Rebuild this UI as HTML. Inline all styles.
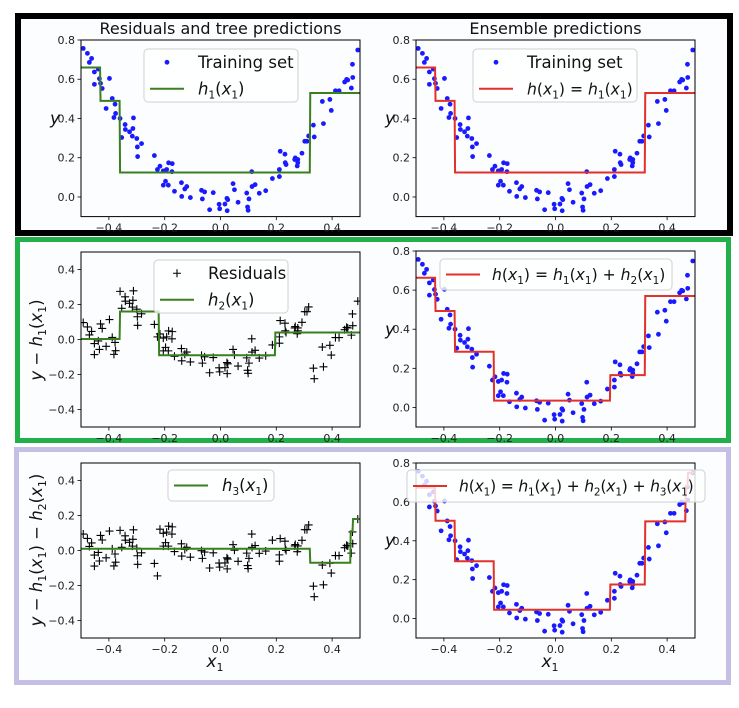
<!DOCTYPE html>
<html><head><meta charset="utf-8">
<style>
html,body{margin:0;padding:0;background:#fff;}
svg{display:block;font-family:"DejaVu Sans","Liberation Sans",sans-serif;}
</style></head>
<body>
<svg id="chart" width="739" height="708" viewBox="0 0 739 708" xmlns="http://www.w3.org/2000/svg">
  <rect x="18" y="16" width="712" height="217" fill="#fbfdff" stroke="#000" stroke-width="6"/>
  <rect x="17.5" y="239.5" width="711" height="201" fill="#fbfdff" stroke="#22b04b" stroke-width="5"/>
  <rect x="16.5" y="449.5" width="712" height="233" fill="#fbfdff" stroke="#c5bfe6" stroke-width="5"/>
  <g id="plots"></g>
</svg>
<script>
const dataX = [-0.492,-0.477,-0.470,-0.462,-0.452,-0.452,-0.438,-0.434,-0.430,-0.424,-0.410,-0.398,-0.388,-0.378,-0.382,-0.376,-0.360,-0.354,-0.342,-0.341,-0.326,-0.314,-0.312,-0.316,-0.300,-0.298,-0.297,-0.283,-0.237,-0.226,-0.217,-0.205,-0.193,-0.205,-0.197,-0.187,-0.186,-0.173,-0.174,-0.165,-0.140,-0.139,-0.128,-0.121,-0.108,-0.068,-0.065,-0.057,-0.039,-0.026,-0.005,-0.003,0.016,0.023,0.026,0.024,0.045,0.050,0.063,0.094,0.097,0.099,0.102,0.112,0.113,0.124,0.139,0.162,0.186,0.211,0.211,0.214,0.231,0.232,0.235,0.266,0.268,0.277,0.275,0.277,0.292,0.302,0.310,0.316,0.333,0.336,0.365,0.369,0.392,0.397,0.412,0.425,0.445,0.452,0.456,0.469,0.473,0.474,0.492];
const dataY = [0.757,0.732,0.686,0.706,0.637,0.574,0.652,0.603,0.579,0.553,0.451,0.604,0.502,0.473,0.405,0.426,0.400,0.303,0.369,0.344,0.332,0.349,0.403,0.310,0.298,0.255,0.206,0.272,0.211,0.140,0.157,0.133,0.140,0.060,0.080,0.060,0.174,0.170,0.129,0.029,0.073,0.003,0.041,0.053,-0.003,0.034,-0.010,0.026,-0.065,0.022,-0.037,-0.060,-0.036,-0.007,-0.014,-0.070,0.068,0.037,-0.027,0.020,-0.051,-0.068,-0.010,0.129,0.053,0.063,0.019,0.032,0.094,0.140,0.104,0.233,0.218,0.175,0.165,0.191,0.199,0.175,0.158,0.191,0.223,0.284,0.284,0.311,0.366,0.306,0.487,0.374,0.497,0.441,0.541,0.541,0.586,0.599,0.596,0.555,0.676,0.609,0.749];
// tree 1
const h1Splits = [-0.43,-0.36,0.32];
const h1Values = [0.66,0.49,0.125,0.53];
// tree 2
const h2Splits = [-0.36,-0.22,0.195];
const h2Values = [0.003,0.16,-0.09,0.04];
// tree 3
const h3Splits = [0.32,0.465,0.475];
const h3Values = [0.01,-0.07,0.11,0.18];
const xTicks = [-0.4,-0.2,0.0,0.2,0.4];
const yTicksPred = [0.0,0.2,0.4,0.6,0.8];
const yTicksRes = [-0.4,-0.2,0.0,0.2,0.4];

const NS="http://www.w3.org/2000/svg";
const root=document.getElementById('plots');
function el(tag,attrs,parent){const e=document.createElementNS(NS,tag);for(const k in attrs)e.setAttribute(k,attrs[k]);(parent||root).appendChild(e);return e;}
function tree(splits,vals,x){let i=0;while(i<splits.length&&x>=splits[i])i++;return vals[i];}
function sumTrees(list,x){let s=0;for(const t of list)s+=tree(t[0],t[1],x);return s;}
function fmt(v){const s=Math.abs(v).toFixed(1);return (v<-1e-9?'\u2212':'')+s;}

const resid1 = dataY.map((y,i)=>y-tree(h1Splits,h1Values,dataX[i]));
const resid2 = dataY.map((y,i)=>y-tree(h1Splits,h1Values,dataX[i])-tree(h2Splits,h2Values,dataX[i]));

function panel(p){
  const g=el('g',{});
  
  
  const sx=v=>p.x0+(v-(-0.5))/(1)*(p.x1-p.x0);
  const sy=v=>p.y1-(v-p.ymin)/(p.ymax-p.ymin)*(p.y1-p.y0);
  const clipId='clip-'+p.name;
  const cp=el('clipPath',{id:clipId},g);
  el('rect',{x:p.x0,y:p.y0,width:p.x1-p.x0,height:p.y1-p.y0},cp);
  xTicks.forEach(t=>{
    const X=sx(t);
    const tk=el('line',{x1:X,x2:X,y1:p.y1,y2:p.y1+3.5,stroke:'#000','stroke-width':0.8},g);
    
    
    const tx=el('text',{x:X,y:p.y1+15,'font-size':11,'text-anchor':'middle',fill:'#222'},g);
    
    
    tx.textContent=fmt(t);
  });
  p.yt.forEach(t=>{
    const Y=sy(t);
    const tk=el('line',{x1:p.x0-3.5,x2:p.x0,y1:Y,y2:Y,stroke:'#000','stroke-width':0.8},g);
    
    
    const tx=el('text',{x:p.x0-6,y:Y+4,'font-size':11,'text-anchor':'end',fill:'#222'},g);
    
    
    tx.textContent=fmt(t);
  });
  const pg=el('g',{'clip-path':'url(#'+clipId+')'},g);
  p.py.forEach((v,i)=>{
    const X=sx(dataX[i]),Y=sy(v);
    if(p.marker==='dot'){
      const c=el('circle',{cx:X,cy:Y,r:2.4,fill:'#1a1aff'},pg);
      
      
    }else{
      const c=el('path',{d:`M${X-4},${Y}H${X+4}M${X},${Y-4}V${Y+4}`,stroke:'#000','stroke-width':1.1,fill:'none'},pg);
      
      
    }
  });
  let d='';const N=600;
  for(let k=0;k<=N;k++){const xv=-0.5+k/N;const yv=sumTrees(p.trees,xv);d+=(k?'L':'M')+sx(xv).toFixed(2)+','+sy(yv).toFixed(2);}
  const ln=el('path',{d:d,fill:'none',stroke:p.color,'stroke-width':2,'stroke-linejoin':'miter'},pg);
  
  
  const fr=el('rect',{x:p.x0,y:p.y0,width:p.x1-p.x0,height:p.y1-p.y0,fill:'none',stroke:'#000','stroke-width':1},g);
  
  
  const L=p.leg;
  const lg=el('g',{},g);
  
  
  el('rect',{x:L.x,y:L.y,width:L.w,height:L.h,rx:4,fill:'#fff','fill-opacity':0.8,stroke:'#d0d0d0'},lg);
  const rh=L.h/L.rows.length;
  L.rows.forEach((r,i)=>{
    const cy=L.y+rh*(i+0.5);
    if(r.type==='dot'){el('circle',{cx:L.x+L.sx+17,cy:cy,r:2.4,fill:'#1a1aff'},lg);}
    else if(r.type==='plus'){const X=L.x+L.sx+17;el('path',{d:`M${X-4},${cy}H${X+4}M${X},${cy-4}V${cy+4}`,stroke:'#000','stroke-width':1.1},lg);}
    else el('line',{x1:L.x+L.sx,x2:L.x+L.sx+34,y1:cy,y2:cy,stroke:p.color,'stroke-width':2},lg);
    const t=el('text',{x:L.x+L.sx+(L.tx||48),y:cy+5.5,'font-size':r.fs||16.5,fill:'#111','letter-spacing':r.ls||0},lg);
    
    
    t.innerHTML=r.text;
  });
}
const hx=(n)=>`<tspan font-style="italic">h</tspan><tspan font-size="10.5" dy="4">${n}</tspan><tspan dy="-4">(</tspan><tspan font-style="italic">x</tspan><tspan font-size="10.5" dy="4">1</tspan><tspan dy="-4">)</tspan>`;
const hh=`<tspan font-style="italic">h</tspan>(<tspan font-style="italic">x</tspan><tspan font-size="10.5" dy="4">1</tspan><tspan dy="-4">) = </tspan>`;
const G='#3c7f1e',R='#e2312a';
panel({name:'tree1-panel',x0:81,x1:360,y0:40,y1:216.6,ymin:-0.1,ymax:0.8,yt:yTicksPred,py:dataY,marker:'dot',trees:[[h1Splits,h1Values]],color:G,
  leg:{x:144,y:49,w:154,h:53,sx:6,rows:[{type:'dot',text:'Training set'},{type:'line',text:hx(1)}]}});
panel({name:'ensemble1-panel',x0:416,x1:695,y0:40,y1:216.6,ymin:-0.1,ymax:0.8,yt:yTicksPred,py:dataY,marker:'dot',trees:[[h1Splits,h1Values]],color:R,
  leg:{x:473,y:49,w:164,h:53,sx:6,rows:[{type:'dot',text:'Training set'},{type:'line',text:hh+hx(1),fs:15.6}]}});
panel({name:'tree2-panel',x0:81,x1:360,y0:252,y1:427,ymin:-0.5,ymax:0.5,yt:yTicksRes,py:resid1,marker:'plus',trees:[[h2Splits,h2Values]],color:G,
  leg:{x:154,y:260,w:134,h:53,sx:6,rows:[{type:'plus',text:'Residuals'},{type:'line',text:hx(2)}]}});
panel({name:'ensemble2-panel',x0:416,x1:695,y0:251,y1:427,ymin:-0.1,ymax:0.8,yt:yTicksPred,py:dataY,marker:'dot',trees:[[h1Splits,h1Values],[h2Splits,h2Values]],color:R,
  leg:{x:440,y:259,w:232,h:31,sx:6,tx:46,rows:[{type:'line',text:hh+hx(1)+' + '+hx(2),fs:15.6}]}});
panel({name:'tree3-panel',x0:81,x1:360,y0:463,y1:638,ymin:-0.5,ymax:0.5,yt:yTicksRes,py:resid2,marker:'plus',trees:[[h3Splits,h3Values]],color:G,
  leg:{x:168,y:470,w:106,h:31,sx:6,rows:[{type:'line',text:hx(3)}]}});
panel({name:'ensemble3-panel',x0:416,x1:695,y0:463,y1:638,ymin:-0.1,ymax:0.8,yt:yTicksPred,py:dataY,marker:'dot',trees:[[h1Splits,h1Values],[h2Splits,h2Values],[h3Splits,h3Values]],color:R,
  leg:{x:407,y:470,w:298,h:32,sx:6,tx:46,rows:[{type:'line',text:hh+hx(1)+' + '+hx(2)+' + '+hx(3),fs:15.6,ls:-0.2}]}});

function txt(name,x,y,size,html,extra){const t=el('text',Object.assign({x:x,y:y,'font-size':size,fill:'#111'},extra||{}));t.innerHTML=html;return t;}
txt('left-column-title',220.5,34,16,'Residuals and tree predictions',{'text-anchor':'middle'});
txt('right-column-title',555.5,34,16,'Ensemble predictions',{'text-anchor':'middle'});
['y-label-1','y-label-2','y-label-3','y-label-4'].forEach((n,i)=>{
  const pos=[[50,124],[385,124],[385,335],[385,546]][i];
  txt(n,pos[0],pos[1],17,'y',{'font-style':'italic'});
});
const yl2=`<tspan font-style="italic">y</tspan> \u2212 <tspan font-style="italic">h</tspan><tspan font-size="11" dy="4">1</tspan><tspan dy="-4">(</tspan><tspan font-style="italic">x</tspan><tspan font-size="11" dy="4">1</tspan><tspan dy="-4">)</tspan>`;
txt('y-axis-title-residuals-1',0,0,16.5,yl2,{'text-anchor':'middle',transform:'translate(42,340) rotate(-90)'});
txt('y-axis-title-residuals-2',0,0,16.5,yl2+` \u2212 <tspan font-style="italic">h</tspan><tspan font-size="11" dy="4">2</tspan><tspan dy="-4">(</tspan><tspan font-style="italic">x</tspan><tspan font-size="11" dy="4">1</tspan><tspan dy="-4">)</tspan>`,{'text-anchor':'middle',transform:'translate(42,550) rotate(-90)'});
const xl=`<tspan font-style="italic">x</tspan><tspan font-size="11" dy="4">1</tspan>`;
txt('x-axis-title-left',215,667,17,xl,{'text-anchor':'middle'});
txt('x-axis-title-right',550,667,17,xl,{'text-anchor':'middle'});
</script>
</body></html>
